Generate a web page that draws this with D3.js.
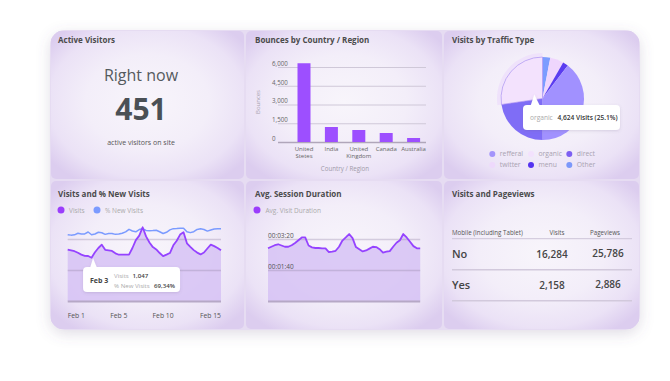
<!DOCTYPE html>
<html><head><meta charset="utf-8">
<script src="https://cdn.jsdelivr.net/npm/d3@7"></script>
<style>
html,body{margin:0;padding:0;background:#fff;}
svg{display:block;font-family:"Open Sans",sans-serif;}
</style></head><body>
<svg id="c" width="670" height="381"></svg>
<script>
// ---------- DATA ----------
const activeNow = 451;

const countries = ["United Stetes","India","United Kingdom","Canada","Australia"];
const bounces = [6300,1200,960,720,320];
const bounceTicks = [0,1500,3000,4500,6000];

const trafficTypes = ["Other","twitter","menu","refferal","direct","organic"];
const trafficVisits = [508,898,356,6690,3845,4624];
const legendOrder = ["refferal","organic","direct","twitter","menu","Other"];
const organicShare = "25.1%";

const visits = [1241,1224,1205,1166,1122,1093,1089,1047,1180,1282,1362,1239,1226,1212,1154,1120,1120,1120,1120,1282,1473,1582,1783,1563,1415,1304,1248,1161,1086,1122,1161,1347,1459,1606,1662,1396,1311,1231,1171,1127,1173,1270,1362,1328,1282,1226];
const newVisitsPct = [69.4,68.9,69.2,70.9,70.1,70.2,72.2,69.34,70.1,71.9,71.4,69.7,70.7,70.6,69.7,70.0,70.9,72.3,75.0,73.2,72.4,74.7,75.6,73.8,73.6,73.7,74.0,72.4,70.6,71.9,74.4,75.7,75.9,76.2,76.2,72.5,71.5,72.5,74.9,75.5,74.8,73.1,74.3,75.4,75.6,75.6];
const visitTickIdx = [0,15,28,45];
const visitTickLabels = ["Feb 1","Feb 5","Feb 10","Feb 15"];
const visitGrid = [0,750,1500];
const tooltipIdx = 7;
const tooltipDate = "Feb 3";

const sessionSecs = [170,175,180,183,179,175,175,180,187,196,205,205,179,173,171,171,170,170,158,159,162,175,195,205,216,203,174,167,160,163,169,175,174,167,156,159,161,175,188,196,216,205,191,177,170,170];
const sessionTicks = [0,100,200];

const mobileRows = ["No","Yes"];
const rowVisits = [16284,2158];
const rowPageviews = [25786,2886];
const tableHeaders = ["Mobile (Including Tablet)","Visits","Pageviews"];

// ---------- SETUP ----------
const svg = d3.select("#c");
const defs = svg.append("defs");
const f = defs.append("filter").attr("id","sh").attr("x","-20%").attr("y","-20%").attr("width","140%").attr("height","150%");
f.append("feDropShadow").attr("dx",0).attr("dy",4).attr("stdDeviation",7).attr("flood-color","#6a5a80").attr("flood-opacity",0.2);
const f2 = defs.append("filter").attr("id","tsh").attr("x","-20%").attr("y","-40%").attr("width","140%").attr("height","180%");
f2.append("feDropShadow").attr("dx",0).attr("dy",1).attr("stdDeviation",1.5).attr("flood-color","#6a5a80").attr("flood-opacity",0.2);

const rg = defs.append("radialGradient").attr("id","pg").attr("cx","50%").attr("cy","48%").attr("r","64%");
[[0,"#f8f5fb"],[0.5,"#f3eef9"],[0.8,"#ebe2f6"],[1,"#dccdef"]].forEach(s=>rg.append("stop").attr("offset",s[0]).attr("stop-color",s[1]));

defs.append("clipPath").attr("id","cc").append("rect").attr("x",50).attr("y",30).attr("width",590).attr("height",300).attr("rx",15);

svg.append("rect").attr("x",50).attr("y",30).attr("width",590).attr("height",300).attr("rx",15)
  .attr("fill","#e6dcf2").attr("filter","url(#sh)");

const panels = [[50,30,195,150],[245,30,198,150],[443,30,197,150],[50,180,195,150],[245,180,198,150],[443,180,197,150]];
const pg = svg.append("g").attr("clip-path","url(#cc)");
pg.selectAll("rect").data(panels).join("rect")
  .attr("x",d=>d[0]+1).attr("y",d=>d[1]+1).attr("width",d=>d[2]-2).attr("height",d=>d[3]-2).attr("rx",5)
  .attr("fill","url(#pg)");

const titles = [["Active Visitors",58,43],["Bounces by Country / Region",255,43],["Visits by Traffic Type",452,43],
  ["Visits and % New Visits",58,197],["Avg. Session Duration",255,197],["Visits and Pageviews",452,197]];
svg.selectAll("text.title").data(titles).join("text").attr("class","title")
  .attr("x",d=>d[1]).attr("y",d=>d[2]).text(d=>d[0])
  .attr("font-size",8).attr("font-weight",700).attr("fill","#4b4b4b");

// ---------- ACTIVE VISITORS ----------
svg.append("text").attr("x",141).attr("y",80.5).attr("text-anchor","middle").attr("font-size",16).attr("fill","#555a5e").text("Right now");
svg.append("text").attr("x",141).attr("y",120).attr("text-anchor","middle").attr("font-size",30).attr("font-weight",700).attr("fill","#4a5055").text(activeNow);
svg.append("text").attr("x",141).attr("y",144.5).attr("text-anchor","middle").attr("font-size",7).attr("fill","#555").text("active visitors on site");

// ---------- BOUNCES BAR ----------
const bx = d3.scaleBand().domain(countries).range([290.3,427.3]).paddingInner(0.52).paddingOuter(0.26);
const by = d3.scaleLinear().domain([0,6000]).range([142,67]);
const bAxis = svg.append("g").attr("transform","translate(278,0)")
  .call(d3.axisRight(by).tickValues(bounceTicks).tickSize(148).tickFormat(d3.format(",")));
bAxis.select(".domain").remove();
bAxis.selectAll(".tick line").attr("stroke",d=>d===0?"#b0a6ba":"#cfc8d8").attr("stroke-width",d=>d===0?1.5:1);
bAxis.selectAll(".tick text").attr("x",-6).attr("dy","-0.25em").attr("text-anchor","start")
  .attr("font-size",6.2).attr("fill","#666").attr("font-family","Open Sans");
const bw = 13;
svg.selectAll("rect.bar").data(countries).join("rect").attr("class","bar")
  .attr("x",(d)=>bx(d)+bx.bandwidth()/2-bw/2).attr("width",bw)
  .attr("y",(d,i)=>by(bounces[i])).attr("height",(d,i)=>by(0)-by(bounces[i]))
  .attr("fill","#9d4fff");
countries.forEach((d)=>{
  const parts = d.split(" ");
  const cx = bx(d)+bx.bandwidth()/2;
  parts.forEach((p,j)=>svg.append("text").attr("class","cl").attr("x",cx).attr("y",151.3+j*7)
    .attr("text-anchor","middle").attr("font-size",6).attr("fill","#666").text(p));
});
svg.append("text").attr("x",345).attr("y",170.5).attr("text-anchor","middle").attr("font-size",6.2).attr("fill","#a09aa8").text("Country / Region");
svg.append("text").attr("transform","translate(260,102) rotate(-90)").attr("text-anchor","middle").attr("font-size",6).attr("fill","#a9a3b0").text("Bounces");

// ---------- PIE ----------
const colorMap = {Other:"#7b9cff",twitter:"#efd6fd",menu:"#5a3cf0",refferal:"#a191ff",direct:"#7f6df6",organic:"#f3e2fd"};
const legendColor = {Other:"#7c98fa",twitter:"#eed9fc",menu:"#5534f0",refferal:"#a394fb",direct:"#7d5ff2",organic:"#f3e2fd"};
const pcx = 542.5, pcy = 98.5, pr = 41.5;
const pieData = d3.pie().sort(null).value(d=>d)(trafficVisits);
const arc = d3.arc().innerRadius(0).outerRadius(pr);
const pieG = svg.append("g").attr("transform",`translate(${pcx},${pcy})`);
const orgArc = pieData[trafficTypes.indexOf("organic")];
pieG.append("path").attr("d",d3.arc().innerRadius(pr+0.5).outerRadius(pr+4)(orgArc)).attr("fill","#efe2fb");
pieG.selectAll("path.sl").data(pieData).join("path").attr("class","sl")
  .attr("d",arc).attr("fill",(d,i)=>colorMap[trafficTypes[i]])
  .attr("stroke",(d,i)=>trafficTypes[i]==="organic"?"#a98ef2":"none").attr("stroke-width",0.7);
const legPos = legendOrder.map((t,i)=>[[492.3,531,569.3][i%3],[154,165][Math.floor(i/3)]]);
svg.selectAll("circle.lg").data(legendOrder).join("circle").attr("class","lg")
  .attr("cx",(d,i)=>legPos[i][0]).attr("cy",(d,i)=>legPos[i][1]).attr("r",3).attr("fill",d=>legendColor[d]);
svg.selectAll("text.lg").data(legendOrder).join("text").attr("class","lg")
  .attr("x",(d,i)=>legPos[i][0]+7.5).attr("y",(d,i)=>legPos[i][1]+2.4).attr("font-size",6.8).attr("fill","#a8a2b0").text(d=>d);
// tooltip
const ptg = svg.append("g").attr("filter","url(#tsh)");
ptg.append("rect").attr("x",523).attr("y",105).attr("width",97).attr("height",25).attr("rx",4).attr("fill","#fff");
ptg.append("polygon").attr("points","530.5,106 540,106 534.3,94.5").attr("fill","#fff");
svg.append("text").attr("x",530).attr("y",120).attr("font-size",6.6).attr("fill","#aaa").text("organic");
svg.append("text").attr("x",557.5).attr("y",120).attr("font-size",6.6).attr("font-weight",600).attr("fill","#333")
  .text(d3.format(",")(trafficVisits[trafficTypes.indexOf("organic")])+" Visits ("+organicShare+")");

// ---------- VISITS LINE ----------
const idx = d3.range(visits.length);
const vx = d3.scalePoint().domain(idx).range([67.7,221]);
const vy = d3.scaleLinear().domain([0,1500]).range([301,239]);
const vy2 = d3.scaleLinear().domain([0,100]).range([301,205.4]);
svg.append("path").datum(visits).attr("d",d3.area().x((d,i)=>vx(i)).y0(vy(0)).y1(d=>vy(d))).attr("fill","#d6c2f5").attr("opacity",0.85);
const vGrid = svg.append("g").attr("transform","translate(67.7,0)")
  .call(d3.axisRight(vy).tickValues(visitGrid).tickSize(153.3).tickFormat(""));
vGrid.select(".domain").remove();
vGrid.selectAll(".tick line").attr("stroke",d=>d===0?"#b6a8c6":"rgba(150,135,170,0.35)").attr("stroke-width",d=>d===0?2:1.6);
svg.append("path").datum(newVisitsPct).attr("d",d3.line().x((d,i)=>vx(i)).y(d=>vy2(d))).attr("fill","none").attr("stroke","#7b9bff").attr("stroke-width",1.5).attr("stroke-linejoin","round");
svg.append("path").datum(visits).attr("d",d3.line().x((d,i)=>vx(i)).y(d=>vy(d))).attr("fill","none").attr("stroke","#9543ff").attr("stroke-width",1.8).attr("stroke-linejoin","round");
svg.selectAll("text.vt").data(visitTickIdx).join("text").attr("class","vt")
  .attr("x",d=>vx(d)).attr("y",317.5).attr("font-size",6.8).attr("fill","#555")
  .attr("text-anchor",(d,i)=>i===0?"start":(i===visitTickIdx.length-1?"end":"middle")).text((d,i)=>visitTickLabels[i]);
svg.append("circle").attr("cx",61).attr("cy",210).attr("r",3.5).attr("fill","#9b3dfc");
svg.append("text").attr("x",69).attr("y",212.5).attr("font-size",6.5).attr("fill","#aaa").text("Visits");
svg.append("circle").attr("cx",97).attr("cy",210).attr("r",3.5).attr("fill","#7b9bff");
svg.append("text").attr("x",105).attr("y",212.5).attr("font-size",6.5).attr("fill","#aaa").text("% New Visits");
// tooltip
const tpx = vx(tooltipIdx)+1.5, tpy = vy(visits[tooltipIdx]);
const vtg = svg.append("g").attr("filter","url(#tsh)");
vtg.append("rect").attr("x",tpx-10).attr("y",267).attr("width",97).attr("height",25).attr("rx",4).attr("fill","#fff");
vtg.append("polygon").attr("points",`${tpx-3},268 ${tpx+4},268 ${tpx},${tpy+0.5}`).attr("fill","#fff");
svg.append("text").attr("x",tpx-3).attr("y",282.5).attr("font-size",7).attr("font-weight",700).attr("fill","#444").text(tooltipDate);
svg.append("text").attr("x",tpx+21).attr("y",277.5).attr("font-size",6.1).attr("fill","#aaa").text("Visits");
svg.append("text").attr("x",tpx+39.5).attr("y",277.5).attr("font-size",6.1).attr("font-weight",600).attr("fill","#444").text(d3.format(",")(visits[tooltipIdx]));
svg.append("text").attr("x",tpx+21).attr("y",287.5).attr("font-size",6.1).attr("fill","#aaa").text("% New Visits");
svg.append("text").attr("x",tpx+61).attr("y",287.5).attr("font-size",6.1).attr("font-weight",600).attr("fill","#444").text(d3.format(".2f")(newVisitsPct[tooltipIdx]).replace(".",",")+"%");

// ---------- SESSION DURATION ----------
const sx = d3.scalePoint().domain(d3.range(sessionSecs.length)).range([268,420.2]);
const sy = d3.scaleLinear().domain([0,200]).range([301,239]);
svg.append("path").datum(sessionSecs).attr("d",d3.area().x((d,i)=>sx(i)).y0(sy(0)).y1(d=>sy(d))).attr("fill","#d6c2f5").attr("opacity",0.85);
const fmtT = s=>[Math.floor(s/3600),Math.floor(s%3600/60),s%60].map(v=>String(v).padStart(2,"0")).join(":");
const sGrid = svg.append("g").attr("transform","translate(268,0)")
  .call(d3.axisRight(sy).tickValues(sessionTicks).tickSize(152.2).tickFormat(fmtT));
sGrid.select(".domain").remove();
sGrid.selectAll(".tick line").attr("stroke",d=>d===0?"#b6a8c6":"rgba(150,135,170,0.35)").attr("stroke-width",d=>d===0?2:1.6);
sGrid.selectAll(".tick text").attr("x",0).attr("dy","-0.3em").attr("text-anchor","start").attr("font-size",6.5).attr("fill","#555").attr("font-family","Open Sans")
  .style("display",d=>d===0?"none":null);
svg.append("path").datum(sessionSecs).attr("d",d3.line().x((d,i)=>sx(i)).y(d=>sy(d))).attr("fill","none").attr("stroke","#9543ff").attr("stroke-width",1.8).attr("stroke-linejoin","round");
svg.append("circle").attr("cx",257).attr("cy",210).attr("r",3.5).attr("fill","#9b3dfc");
svg.append("text").attr("x",265.5).attr("y",212.5).attr("font-size",6.5).attr("fill","#aaa").text("Avg. Visit Duration");

// ---------- TABLE ----------
const colX = [452,552,608];
svg.selectAll("text.th").data(tableHeaders).join("text").attr("class","th")
  .attr("x",(d,i)=>i===0?colX[0]:(i===1?557:605)).attr("y",235).attr("text-anchor",(d,i)=>i===0?"start":"middle")
  .attr("font-size",6.2).attr("fill","#555").text(d=>d);
const ry = d3.scalePoint().domain(mobileRows).range([257.5,288.5]);
svg.selectAll("line.tl").data([238.7,269.8,300.8]).join("line").attr("class","tl")
  .attr("x1",452).attr("x2",632).attr("y1",d=>d).attr("y2",d=>d).attr("stroke",(d,i)=>i===0?"#cdc4d8":"#d2c9dc").attr("stroke-width",(d,i)=>i===0?1:1.6);
svg.selectAll("text.rl").data(mobileRows).join("text").attr("class","rl")
  .attr("x",colX[0]).attr("y",d=>ry(d)+0.5).attr("font-size",11).attr("font-weight",600).attr("fill","#454545").text(d=>d);
svg.selectAll("text.rv").data(mobileRows).join("text").attr("class","rv")
  .attr("x",colX[1]).attr("y",d=>ry(d)).attr("text-anchor","middle").attr("font-size",10).attr("font-weight",600).attr("fill","#454545").text((d,i)=>d3.format(",")(rowVisits[i]));
svg.selectAll("text.rp").data(mobileRows).join("text").attr("class","rp")
  .attr("x",colX[2]).attr("y",d=>ry(d)-1).attr("text-anchor","middle").attr("font-size",10).attr("font-weight",600).attr("fill","#454545").text((d,i)=>d3.format(",")(rowPageviews[i]));
</script>
</body></html>
